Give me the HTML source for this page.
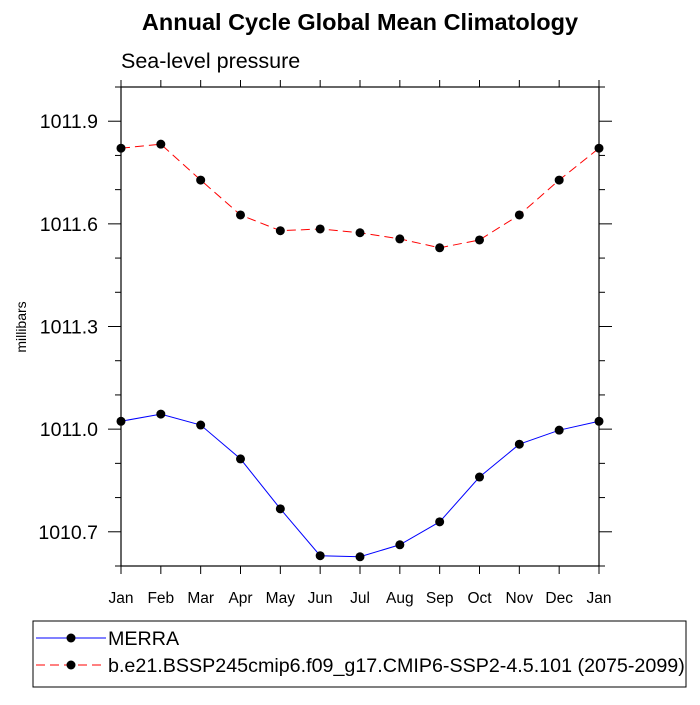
<!DOCTYPE html>
<html><head><meta charset="utf-8"><style>
body{margin:0;background:#fff;}
svg text{font-family:"Liberation Sans",Arial,sans-serif;}
</style></head><body>
<svg id="chart" width="700" height="700" xmlns="http://www.w3.org/2000/svg">
<text x="360" y="30" font-size="23.5" font-weight="bold" text-anchor="middle">Annual Cycle Global Mean Climatology</text>
<text x="121" y="68" font-size="21.5">Sea-level pressure</text>
<text transform="translate(26,327) rotate(-90)" font-size="14" text-anchor="middle">millibars</text>
<g id="axes"></g>
<g id="series"></g>
<rect x="33" y="621" width="653" height="66" fill="none" stroke="#000" stroke-width="1"/>
<g>
<line x1="36" y1="638" x2="106" y2="638" stroke="#0000ff" stroke-width="1"/>
<circle cx="71" cy="638" r="4.5" fill="#000"/>
<text x="108" y="645" font-size="19.7">MERRA</text>
</g>
<g>
<line x1="36" y1="665" x2="106" y2="665" stroke="#ff0000" stroke-width="1" stroke-dasharray="9,5"/>
<circle cx="71" cy="665" r="4.5" fill="#000"/>
<text x="108" y="672" font-size="19.7">b.e21.BSSP245cmip6.f09_g17.CMIP6-SSP2-4.5.101 (2075-2099)</text>
</g>
</svg>
<script>
const months=["Jan","Feb","Mar","Apr","May","Jun","Jul","Aug","Sep","Oct","Nov","Dec","Jan"];
const merra=[1011.023,1011.044,1011.012,1010.913,1010.767,1010.630,1010.627,1010.662,1010.729,1010.860,1010.956,1010.997,1011.023];
const model=[1011.821,1011.833,1011.728,1011.626,1011.580,1011.585,1011.574,1011.556,1011.530,1011.553,1011.626,1011.728,1011.821];
const yTicks=["1010.7","1011.0","1011.3","1011.6","1011.9"];
const X0=121,X1=599,Y0=87,Y1=566,YMIN=1010.6,YMAX=1012.0;
const NS="http://www.w3.org/2000/svg";
function xs(i){return X0+(X1-X0)*i/(months.length-1);}
function ys(v){return Y1-(v-YMIN)/(YMAX-YMIN)*(Y1-Y0);}
function mk(tag,attrs,parent){const e=document.createElementNS(NS,tag);for(const k in attrs)e.setAttribute(k,attrs[k]);parent.appendChild(e);return e;}
const ax=document.getElementById('axes');
const frame=mk('rect',{x:X0,y:Y0,width:X1-X0,height:Y1-Y0,fill:'none',stroke:'#000','stroke-width':1.2},ax);


for(let i=0;i<months.length;i++){
  const x=xs(i);
  mk('line',{x1:x,y1:Y1,x2:x,y2:Y1+8,stroke:'#000'},ax);
  mk('line',{x1:x,y1:Y0,x2:x,y2:Y0-7,stroke:'#000'},ax);
  const t=mk('text',{x:x,y:Y1+37,'font-size':15.5,'text-anchor':'middle'},ax);
  t.textContent=months[i];
  
  
}
for(let k=0;k<=14;k++){
  const v=YMIN+k*0.1;const y=ys(v);
  const major=(k%3===1);
  const len=major?13:6;
  mk('line',{x1:X0-len,y1:y,x2:X0,y2:y,stroke:'#000'},ax);
  mk('line',{x1:X1,y1:y,x2:X1+len,y2:y,stroke:'#000'},ax);
}
yTicks.forEach(s=>{
  const y=ys(parseFloat(s));
  const t=mk('text',{x:X0-23,y:y+7,'font-size':19.5,'text-anchor':'end'},ax);
  t.textContent=s;
  
  
});
const sg=document.getElementById('series');
function drawSeries(vals,color,dash,name){
  const g=mk('g',{},sg);
  
  
  const pts=vals.map((v,i)=>xs(i)+','+ys(v)).join(' ');
  const a={points:pts,fill:'none',stroke:color,'stroke-width':1};
  if(dash)a['stroke-dasharray']=dash;
  mk('polyline',a,g);
  vals.forEach((v,i)=>{
    const c=mk('circle',{cx:xs(i),cy:ys(v),r:4.5,fill:'#000'},g);
    
    
  });
}
drawSeries(model,'#ff0000','9,5','model-series');
drawSeries(merra,'#0000ff',null,'merra-series');
</script>
</body></html>
